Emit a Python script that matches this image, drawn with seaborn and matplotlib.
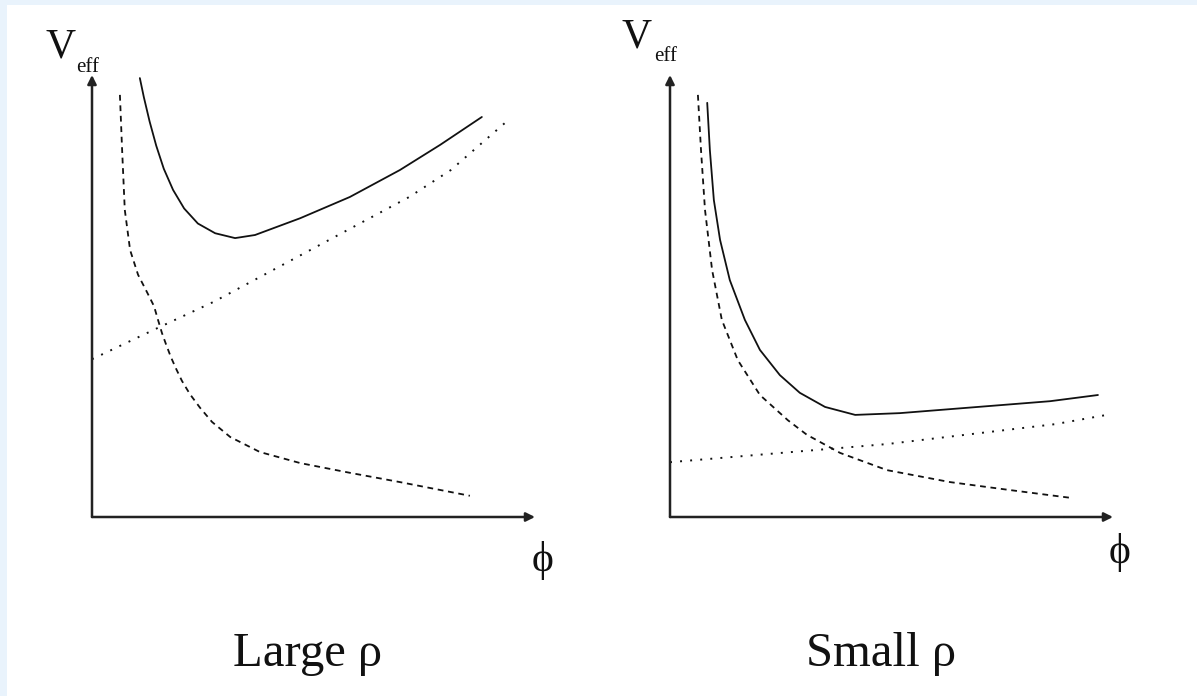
import matplotlib
matplotlib.use("Agg")
import matplotlib.pyplot as plt
from matplotlib.patches import Rectangle
import numpy as np
import pandas as pd
import seaborn as sns

# Effective potential sketches: total (solid), repulsive (dashed), linear-ish (dotted)
# Units are arbitrary: phi and V both run over 0..10 in each panel.

# Large rho
large_phi_total = [1.08, 1.17, 1.30, 1.45, 1.62, 1.83, 2.08, 2.39, 2.78, 3.23, 3.68, 4.70, 5.82, 6.95, 7.86, 8.80]
large_v_total = [9.93, 9.50, 8.95, 8.40, 7.88, 7.40, 6.98, 6.64, 6.42, 6.31, 6.38, 6.76, 7.24, 7.85, 8.42, 9.05]

large_phi_rep = [0.63, 0.68, 0.74, 0.86, 1.04, 1.24, 1.40, 1.49, 1.58, 1.67, 1.78, 1.90, 2.03, 2.21, 2.44,
                 2.71, 3.12, 3.79, 4.70, 5.82, 6.95, 8.53]
large_v_rep = [9.55, 8.30, 6.95, 6.04, 5.48, 5.09, 4.77, 4.46, 4.16, 3.91, 3.62, 3.35, 3.08, 2.78, 2.47,
               2.15, 1.81, 1.47, 1.22, 1.00, 0.79, 0.48]

large_phi_lin = [0.00, 1.49, 2.75, 7.16, 8.10, 9.35]
large_v_lin = [3.57, 4.28, 4.87, 7.24, 7.85, 8.94]

# Small rho
small_phi_total = [0.84, 0.90, 0.99, 1.13, 1.35, 1.69, 2.03, 2.48, 2.93, 3.50, 4.18, 5.19, 6.32, 7.45, 8.58, 9.66]
small_v_total = [9.37, 8.30, 7.17, 6.27, 5.36, 4.46, 3.78, 3.21, 2.81, 2.49, 2.31, 2.35, 2.44, 2.53, 2.62, 2.76]

small_phi_rep = [0.63, 0.70, 0.79, 0.95, 1.17, 1.53, 2.03, 2.66, 3.09, 3.84, 4.90, 6.32, 7.67, 9.07]
small_v_rep = [9.55, 8.30, 6.95, 5.59, 4.46, 3.55, 2.76, 2.19, 1.86, 1.45, 1.06, 0.79, 0.61, 0.43]

small_phi_lin = [0.00, 4.90, 8.69, 9.86]
small_v_lin = [1.24, 1.65, 2.10, 2.31]

panel_titles = ["Large \u03c1", "Small \u03c1"]
x_label = "\u03d5"
y_label_main = "V"
y_label_sub = "eff"

sns.set_theme(style="white")
plt.rcParams["font.family"] = ["Liberation Serif", "DejaVu Serif"]

W, H = 1197, 696
fig = plt.figure(figsize=(W / 100, H / 100), dpi=100)
fig.patch.set_facecolor("white")

# pale frame strips along the top and left edges
fig.add_artist(Rectangle((0, 0), 7 / W, 1, transform=fig.transFigure,
                         facecolor="#e9f3fc", edgecolor="none", zorder=0))
fig.add_artist(Rectangle((0, 1 - 5 / H), 1, 5 / H, transform=fig.transFigure,
                         facecolor="#e9f3fc", edgecolor="none", zorder=0))


def fx(px):
    return px / W


def fy(py):
    return 1 - py / H


panels = [
    dict(x0=92, x1=535, total=(large_phi_total, large_v_total),
         rep=(large_phi_rep, large_v_rep), lin=(large_phi_lin, large_v_lin),
         title=panel_titles[0], title_x=308, phi_xy=(543, 561),
         v_xy=(46, 58), sub_xy=(76, 72)),
    dict(x0=670, x1=1113, total=(small_phi_total, small_v_total),
         rep=(small_phi_rep, small_v_rep), lin=(small_phi_lin, small_v_lin),
         title=panel_titles[1], title_x=881, phi_xy=(1120, 553),
         v_xy=(622, 48), sub_xy=(654, 61)),
]

y_top, y_bot = 75, 517

for p in panels:
    ax = fig.add_axes([fx(p["x0"]), fy(y_bot), (p["x1"] - p["x0"]) / W, (y_bot - y_top) / H])
    ax.set_facecolor("none")
    ax.set_xlim(0, 10)
    ax.set_ylim(0, 10)

    df_t = pd.DataFrame({"phi": p["total"][0], "V": p["total"][1]})
    df_r = pd.DataFrame({"phi": p["rep"][0], "V": p["rep"][1]})
    df_l = pd.DataFrame({"phi": p["lin"][0], "V": p["lin"][1]})

    sns.lineplot(data=df_t, x="phi", y="V", ax=ax, sort=False, estimator=None,
                 color="#111111", lw=1.3)
    sns.lineplot(data=df_r, x="phi", y="V", ax=ax, sort=False, estimator=None,
                 color="#111111", lw=1.3, dashes=False, linestyle=(0, (3.2, 2.6)))
    sns.lineplot(data=df_l, x="phi", y="V", ax=ax, sort=False, estimator=None,
                 color="#111111", lw=1.4, linestyle=(0, (1, 4.2)))

    for s in ax.spines.values():
        s.set_visible(False)
    ax.set_xticks([])
    ax.set_yticks([])
    ax.set_xlabel("")
    ax.set_ylabel("")

    arrow = dict(arrowstyle="-|>", lw=1.8, color="#222222", mutation_scale=13,
                 shrinkA=0, shrinkB=0)
    ax.annotate("", xy=(0, 1), xytext=(0, 0), xycoords="axes fraction",
                textcoords="axes fraction", arrowprops=arrow)
    ax.annotate("", xy=(1, 0), xytext=(0, 0), xycoords="axes fraction",
                textcoords="axes fraction", arrowprops=arrow)

    fig.text(fx(p["v_xy"][0]), fy(p["v_xy"][1]), y_label_main, fontsize=30,
             ha="left", va="baseline", color="#111111")
    fig.text(fx(p["sub_xy"][0]), fy(p["sub_xy"][1]), y_label_sub, fontsize=15,
             ha="left", va="baseline", color="#111111")
    fig.text(fx(p["phi_xy"][0]), fy(p["phi_xy"][1]), x_label, fontsize=30,
             ha="center", va="center", color="#111111")
    fig.text(fx(p["title_x"]), fy(666), p["title"], fontsize=35,
             ha="center", va="baseline", color="#111111")

fig.savefig("out.png", dpi=100, facecolor="white")
